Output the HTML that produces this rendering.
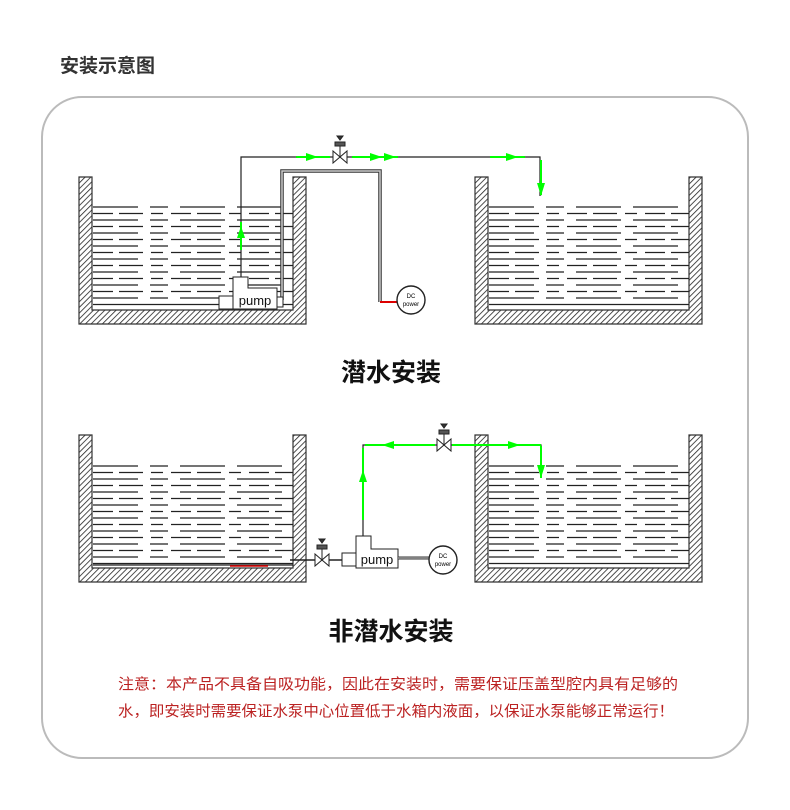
<!DOCTYPE html>
<html><head><meta charset="utf-8"><style>
html,body{margin:0;padding:0;background:#fff;}
body{width:790px;height:805px;overflow:hidden;position:relative;font-family:"Liberation Sans","Noto Sans CJK SC",sans-serif;}
</style></head><body>
<svg width="790" height="805" viewBox="0 0 790 805" xmlns="http://www.w3.org/2000/svg">
<defs>
<pattern id="h" patternUnits="userSpaceOnUse" width="4" height="4" patternTransform="rotate(45)">
<rect width="4" height="4" fill="#fff"/><line x1="0" y1="0" x2="0" y2="4" stroke="#222" stroke-width="1.6"/>
</pattern>
<g id="w" stroke="#222" stroke-width="1.2">
<line x1="0" y1="0" x2="200" y2="0" stroke-dasharray="45 12 18 12 45 12"/>
<line x1="0" y1="6.5" x2="200" y2="6.5" stroke-dasharray="20 6 24 8 12 8"/>
<line x1="0" y1="13" x2="200" y2="13" stroke-dasharray="45 12 18 12 45 12"/>
<line x1="0" y1="19.5" x2="200" y2="19.5" stroke-dasharray="20 6 24 8 12 8"/>
<line x1="0" y1="26" x2="200" y2="26" stroke-dasharray="45 12 18 12 45 12"/>
<line x1="0" y1="32.5" x2="200" y2="32.5" stroke-dasharray="20 6 24 8 12 8"/>
<line x1="0" y1="39" x2="200" y2="39" stroke-dasharray="45 12 18 12 45 12"/>
<line x1="0" y1="45.5" x2="200" y2="45.5" stroke-dasharray="20 6 24 8 12 8"/>
<line x1="0" y1="52" x2="200" y2="52" stroke-dasharray="45 12 18 12 45 12"/>
<line x1="0" y1="58.5" x2="200" y2="58.5" stroke-dasharray="20 6 24 8 12 8"/>
<line x1="0" y1="65" x2="200" y2="65" stroke-dasharray="45 12 18 12 45 12"/>
<line x1="0" y1="71.5" x2="200" y2="71.5" stroke-dasharray="20 6 24 8 12 8"/>
<line x1="0" y1="78" x2="200" y2="78" stroke-dasharray="45 12 18 12 45 12"/>
<line x1="0" y1="84.5" x2="200" y2="84.5" stroke-dasharray="20 6 24 8 12 8"/>
<line x1="0" y1="91" x2="200" y2="91" stroke-dasharray="45 12 18 12 45 12"/>
<line x1="0" y1="97.5" x2="200" y2="97.5"/>
</g>
<g id="tank">
<path d="M0 0 H13 V133 H214 V0 H227 V147 H0 Z" fill="url(#h)" stroke="#333" stroke-width="1.2"/>
</g>
<g id="valve" stroke="#222" stroke-width="1" fill="#fff">
<path d="M-7 -6 L7 6 V-6 L-7 6 Z"/>
<line x1="0" y1="0" x2="0" y2="-12"/>
<rect x="-5" y="-15" width="10" height="4" fill="#555"/>
<path d="M-3 -21 H3 L0 -17 Z" fill="#333"/>
</g>
</defs>

<text x="60" y="72" font-size="19" font-weight="bold" fill="#333" font-family="Liberation Sans,Noto Sans CJK SC,sans-serif">安装示意图</text>
<rect x="42" y="97" width="706" height="661" rx="40" fill="none" stroke="#bbb" stroke-width="2"/>

<use href="#tank" x="79" y="177"/>
<use href="#tank" x="475" y="177"/>
<use href="#w" x="93" y="207"/>
<use href="#w" x="489" y="207"/>

<polyline points="241,277 241,157 540,157 540,196" fill="none" stroke="#222" stroke-width="1.2"/>
<line x1="241" y1="250" x2="241" y2="222" stroke="#0f0" stroke-width="2"/>
<path d="M237 238 L241 226 L245 238 Z" fill="#0f0"/>
<line x1="296" y1="157" x2="330" y2="157" stroke="#0f0" stroke-width="2"/>
<path d="M306 153 L318 157 L306 161 Z" fill="#0f0"/>
<line x1="352" y1="157" x2="398" y2="157" stroke="#0f0" stroke-width="2"/>
<path d="M370 153 L382 157 L370 161 Z M384 153 L396 157 L384 161 Z" fill="#0f0"/>
<line x1="490" y1="157" x2="525" y2="157" stroke="#0f0" stroke-width="2"/>
<path d="M506 153 L518 157 L506 161 Z" fill="#0f0"/>
<line x1="541" y1="160" x2="541" y2="195" stroke="#0f0" stroke-width="2"/>
<path d="M537 183 L541 196 L545 183 Z" fill="#0f0"/>
<use href="#valve" x="340" y="157"/>

<polyline points="282,300 282,171 380,171 380,302" fill="none" stroke="#333" stroke-width="3.5"/>
<polyline points="282,300 282,171 380,171 380,302" fill="none" stroke="#ccc" stroke-width="1.5"/>
<line x1="380" y1="302" x2="397" y2="302" stroke="#d00" stroke-width="2"/>
<circle cx="411" cy="300" r="14" fill="#fff" stroke="#222" stroke-width="1.4"/>
<text x="411" y="298" font-size="6" text-anchor="middle" font-family="Liberation Sans,sans-serif">DC</text>
<text x="411" y="306" font-size="6" text-anchor="middle" font-family="Liberation Sans,sans-serif">power</text>

<path d="M233 277 H248 V288 H277 V309 H233 Z" fill="#fff" stroke="#222" stroke-width="1"/>
<rect x="219" y="296" width="14" height="13" fill="#fff" stroke="#222" stroke-width="1"/>
<rect x="277" y="297" width="6" height="10" fill="#fff" stroke="#222" stroke-width="1"/>
<text x="255" y="305" font-size="13" text-anchor="middle" font-family="Liberation Sans,sans-serif" fill="#111">pump</text>

<text x="391" y="381" font-size="25" font-weight="bold" text-anchor="middle" fill="#111" font-family="Liberation Sans,Noto Sans CJK SC,sans-serif">潜水安装</text>

<use href="#tank" x="79" y="435"/>
<use href="#tank" x="475" y="435"/>
<use href="#w" x="93" y="466"/>
<use href="#w" x="489" y="466"/>

<line x1="93" y1="565" x2="293" y2="565" stroke="#222" stroke-width="1.2"/>
<line x1="230" y1="566" x2="268" y2="566" stroke="#d00" stroke-width="1.5"/>
<line x1="290" y1="560" x2="342" y2="560" stroke="#222" stroke-width="1.5"/>
<use href="#valve" x="322" y="560"/>

<polyline points="363,536 363,445 541,445 541,470" fill="none" stroke="#222" stroke-width="1.2"/>
<line x1="363" y1="520" x2="363" y2="448" stroke="#0f0" stroke-width="2"/>
<path d="M359 482 L363 470 L367 482 Z" fill="#0f0"/>
<line x1="365" y1="445" x2="435" y2="445" stroke="#0f0" stroke-width="2"/>
<path d="M394 441 L382 445 L394 449 Z" fill="#0f0"/>
<line x1="452" y1="445" x2="541" y2="445" stroke="#0f0" stroke-width="2"/>
<path d="M508 441 L520 445 L508 449 Z" fill="#0f0"/>
<line x1="541" y1="446" x2="541" y2="478" stroke="#0f0" stroke-width="2"/>
<path d="M537 465 L541 478 L545 465 Z" fill="#0f0"/>
<use href="#valve" x="444" y="445"/>

<path d="M356 536 H371 V549 H398 V568 H356 Z" fill="#fff" stroke="#222" stroke-width="1"/>
<rect x="342" y="553" width="14" height="13" fill="#fff" stroke="#222" stroke-width="1"/>
<text x="377" y="564" font-size="13" text-anchor="middle" font-family="Liberation Sans,sans-serif" fill="#111">pump</text>
<line x1="398" y1="558" x2="429" y2="558" stroke="#333" stroke-width="3"/>
<line x1="398" y1="558" x2="429" y2="558" stroke="#ccc" stroke-width="1"/>
<circle cx="443" cy="560" r="14" fill="#fff" stroke="#222" stroke-width="1.4"/>
<text x="443" y="558" font-size="6" text-anchor="middle" font-family="Liberation Sans,sans-serif">DC</text>
<text x="443" y="566" font-size="6" text-anchor="middle" font-family="Liberation Sans,sans-serif">power</text>

<text x="391" y="640" font-size="25" font-weight="bold" text-anchor="middle" fill="#111" font-family="Liberation Sans,Noto Sans CJK SC,sans-serif">非潜水安装</text>

<text x="118" y="689" font-size="15" fill="#b22" textLength="560" lengthAdjust="spacingAndGlyphs" font-family="Liberation Sans,Noto Sans CJK SC,sans-serif">注意：本产品不具备自吸功能，因此在安装时，需要保证压盖型腔内具有足够的</text>
<text x="118" y="716" font-size="15" fill="#b22" textLength="556" lengthAdjust="spacingAndGlyphs" font-family="Liberation Sans,Noto Sans CJK SC,sans-serif">水，即安装时需要保证水泵中心位置低于水箱内液面，以保证水泵能够正常运行！</text>
</svg>
</body></html>
